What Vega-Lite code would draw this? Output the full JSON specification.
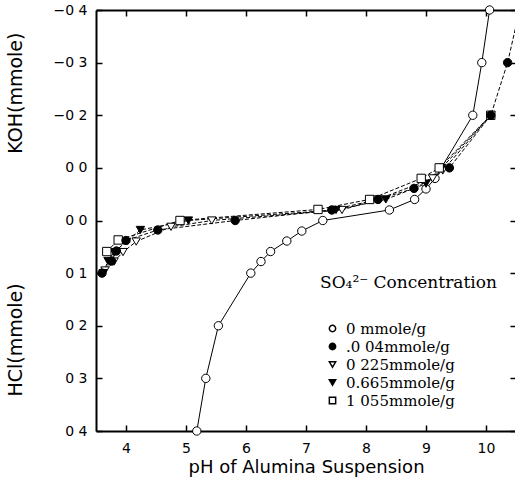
{
  "$schema": "https://vega.github.io/schema/vega-lite/v6.json",
  "width": 420,
  "height": 421,
  "autosize": {"type": "none"},
  "padding": {"left": 96, "top": 10, "right": 0, "bottom": 57},
  "background": "white",
  "config": {
    "view": {"stroke": null},
    "font": "DejaVu Sans"
  },
  "datasets": {
    "main": [
      {"conc": "0 mmole/g", "pH": 5.18, "amount": 0.4},
      {"conc": "0 mmole/g", "pH": 5.33, "amount": 0.3},
      {"conc": "0 mmole/g", "pH": 5.54, "amount": 0.2},
      {"conc": "0 mmole/g", "pH": 6.08, "amount": 0.1},
      {"conc": "0 mmole/g", "pH": 6.25, "amount": 0.078},
      {"conc": "0 mmole/g", "pH": 6.41, "amount": 0.059},
      {"conc": "0 mmole/g", "pH": 6.68, "amount": 0.039},
      {"conc": "0 mmole/g", "pH": 6.93, "amount": 0.02},
      {"conc": "0 mmole/g", "pH": 7.28, "amount": 0.0},
      {"conc": "0 mmole/g", "pH": 8.39, "amount": -0.02},
      {"conc": "0 mmole/g", "pH": 8.81, "amount": -0.04},
      {"conc": "0 mmole/g", "pH": 9.0, "amount": -0.06},
      {"conc": "0 mmole/g", "pH": 9.15, "amount": -0.08},
      {"conc": "0 mmole/g", "pH": 9.78, "amount": -0.2},
      {"conc": "0 mmole/g", "pH": 9.93, "amount": -0.3},
      {"conc": "0 mmole/g", "pH": 10.06, "amount": -0.4},
      {"conc": "0 225mmole/g", "pH": 3.65, "amount": 0.095},
      {"conc": "0 225mmole/g", "pH": 3.8, "amount": 0.078},
      {"conc": "0 225mmole/g", "pH": 3.95, "amount": 0.06},
      {"conc": "0 225mmole/g", "pH": 4.17, "amount": 0.04},
      {"conc": "0 225mmole/g", "pH": 4.75, "amount": 0.012},
      {"conc": "0 225mmole/g", "pH": 5.43, "amount": 0.0},
      {"conc": "0 225mmole/g", "pH": 7.6, "amount": -0.02},
      {"conc": "0 225mmole/g", "pH": 8.19, "amount": -0.04},
      {"conc": "0 225mmole/g", "pH": 9.11, "amount": -0.08},
      {"conc": "0 225mmole/g", "pH": 9.28, "amount": -0.095},
      {"conc": "0 225mmole/g", "pH": 10.08, "amount": -0.2},
      {"conc": "0.665mmole/g", "pH": 3.62, "amount": 0.1},
      {"conc": "0.665mmole/g", "pH": 3.7, "amount": 0.077},
      {"conc": "0.665mmole/g", "pH": 3.8, "amount": 0.06},
      {"conc": "0.665mmole/g", "pH": 4.24, "amount": 0.018},
      {"conc": "0.665mmole/g", "pH": 5.04, "amount": 0.0},
      {"conc": "0.665mmole/g", "pH": 7.5, "amount": -0.02},
      {"conc": "0.665mmole/g", "pH": 8.33, "amount": -0.04},
      {"conc": "0.665mmole/g", "pH": 9.0, "amount": -0.07},
      {"conc": "0.665mmole/g", "pH": 9.26, "amount": -0.1},
      {"conc": "0.665mmole/g", "pH": 10.08, "amount": -0.2},
      {"conc": "1 055mmole/g", "pH": 3.68, "amount": 0.059},
      {"conc": "1 055mmole/g", "pH": 3.87, "amount": 0.037},
      {"conc": "1 055mmole/g", "pH": 4.9, "amount": 0.0},
      {"conc": "1 055mmole/g", "pH": 7.2, "amount": -0.021},
      {"conc": "1 055mmole/g", "pH": 8.06, "amount": -0.04},
      {"conc": "1 055mmole/g", "pH": 8.92, "amount": -0.08},
      {"conc": "1 055mmole/g", "pH": 9.22, "amount": -0.1},
      {"conc": "1 055mmole/g", "pH": 10.08, "amount": -0.2},
      {"conc": ".0 04mmole/g", "pH": 3.6, "amount": 0.1},
      {"conc": ".0 04mmole/g", "pH": 3.76, "amount": 0.077},
      {"conc": ".0 04mmole/g", "pH": 3.84, "amount": 0.058},
      {"conc": ".0 04mmole/g", "pH": 4.0, "amount": 0.038},
      {"conc": ".0 04mmole/g", "pH": 4.53, "amount": 0.018},
      {"conc": ".0 04mmole/g", "pH": 5.82, "amount": 0.0},
      {"conc": ".0 04mmole/g", "pH": 7.43, "amount": -0.02},
      {"conc": ".0 04mmole/g", "pH": 8.2, "amount": -0.04},
      {"conc": ".0 04mmole/g", "pH": 8.8, "amount": -0.061},
      {"conc": ".0 04mmole/g", "pH": 9.39, "amount": -0.1},
      {"conc": ".0 04mmole/g", "pH": 10.08, "amount": -0.2},
      {"conc": ".0 04mmole/g", "pH": 10.36, "amount": -0.3},
      {"conc": ".0 04mmole/g", "pH": 10.56, "amount": -0.4}
    ],
    "titles": [
      {"label": "KOH(mmole)", "tx": 2.17, "ty": -0.242},
      {"label": "HCl(mmole)", "tx": 2.17, "ty": 0.227}
    ]
  },
  "layer": [
    {
      "data": {"name": "main"},
      "transform": [{"filter": "datum.conc == '0 mmole/g'"}],
      "mark": {"type": "line", "stroke": "black", "strokeWidth": 1},
      "encoding": {
        "x": {
          "field": "pH", "type": "quantitative",
          "scale": {"domain": [3.5, 10.5], "nice": false, "zero": false},
          "axis": {
            "orient": "bottom", "values": [4, 5, 6, 7, 8, 9, 10], "format": "d",
            "title": "pH of Alumina Suspension", "grid": false,
            "domainColor": "black", "domainWidth": 2,
            "tickColor": "black", "tickWidth": 1.5, "tickSize": -6,
            "labelPadding": 16, "labelFont": "DejaVu Sans", "labelFontSize": 14, "labelColor": "black",
            "titleFont": "DejaVu Sans", "titleFontSize": 18, "titleFontWeight": "normal",
            "titleColor": "black", "titlePadding": 3
          }
        },
        "y": {
          "field": "amount", "type": "quantitative",
          "scale": {"domain": [-0.4, 0.4], "reverse": true, "nice": false, "zero": false},
          "axis": {
            "orient": "left", "values": [-0.4, -0.3, -0.2, -0.1, 0, 0.1, 0.2, 0.3, 0.4],
            "labelExpr": "(datum.value < -0.05 && datum.value > -0.15) ? '0 0' : replace(format(datum.value, '.1f'), '.', ' ')",
            "title": null, "grid": false,
            "domainColor": "black", "domainWidth": 2,
            "tickColor": "black", "tickWidth": 1.5, "tickSize": -6,
            "labelPadding": 15, "labelFont": "DejaVu Sans", "labelFontSize": 14, "labelColor": "black"
          }
        }
      }
    },
    {
      "data": {"name": "main"},
      "transform": [{"filter": "datum.conc != '0 mmole/g'"}],
      "mark": {"type": "line", "stroke": "black", "strokeWidth": 1, "strokeDash": [4, 2]},
      "encoding": {
        "x": {"field": "pH", "type": "quantitative", "scale": {"domain": [3.5, 10.5], "nice": false, "zero": false}, "axis": null},
        "y": {"field": "amount", "type": "quantitative", "scale": {"domain": [-0.4, 0.4], "reverse": true, "nice": false, "zero": false}, "axis": null},
        "detail": {"field": "conc"}
      }
    },
    {
      "data": {"name": "main"},
      "mark": {"type": "point", "filled": true, "stroke": "black", "strokeWidth": 1, "size": 70, "opacity": 1},
      "encoding": {
        "x": {
          "field": "pH", "type": "quantitative",
          "scale": {"domain": [3.5, 10.5], "nice": false, "zero": false},
          "axis": {
            "orient": "top", "values": [4, 5, 6, 7, 8, 9, 10], "labels": false, "title": null, "grid": false,
            "domainColor": "black", "domainWidth": 2,
            "tickColor": "black", "tickWidth": 1.5, "tickSize": -6
          }
        },
        "y": {
          "field": "amount", "type": "quantitative",
          "scale": {"domain": [-0.4, 0.4], "reverse": true, "nice": false, "zero": false},
          "axis": {
            "orient": "right", "values": [-0.4, -0.3, -0.2, -0.1, 0, 0.1, 0.2, 0.3, 0.4],
            "labels": false, "title": null, "grid": false, "domain": false,
            "tickColor": "black", "tickWidth": 1.5, "tickSize": -6
          }
        },
        "shape": {
          "field": "conc", "type": "nominal", "title": "SO₄²⁻  Concentration",
          "scale": {
            "domain": ["0 mmole/g", ".0 04mmole/g", "0 225mmole/g", "0.665mmole/g", "1 055mmole/g"],
            "range": ["circle", "circle", "triangle-down", "triangle-down", "square"]
          },
          "legend": {
            "orient": "none",
            "legendX": 224,
            "legendY": 265,
            "padding": 0,
            "titleFont": "DejaVu Serif",
            "titleFontSize": 17,
            "titleFontWeight": "normal",
            "titleColor": "black",
            "titlePadding": 29,
            "titleLimit": 400,
            "labelLimit": 300,
            "labelFont": "DejaVu Serif",
            "labelFontSize": 15,
            "labelColor": "black",
            "symbolSize": 40,
            "symbolOffset": 5,
            "labelOffset": 6,
            "rowPadding": 2,
            "encode": {
              "symbols": {
                "update": {
                  "stroke": {"value": "black"},
                  "strokeWidth": {"value": 1},
                  "opacity": {"value": 1}
                }
              }
            }
          }
        },
        "fill": {
          "field": "conc", "type": "nominal", "title": "SO₄²⁻  Concentration",
          "scale": {
            "domain": ["0 mmole/g", ".0 04mmole/g", "0 225mmole/g", "0.665mmole/g", "1 055mmole/g"],
            "range": ["white", "black", "white", "black", "white"]
          }
        }
      }
    },
    {
      "data": {"name": "titles"},
      "mark": {"type": "text", "angle": 270, "align": "center", "baseline": "middle", "font": "DejaVu Sans", "fontSize": 19, "color": "black"},
      "encoding": {
        "x": {"field": "tx", "type": "quantitative", "scale": {"domain": [3.5, 10.5], "nice": false, "zero": false}, "axis": null},
        "y": {"field": "ty", "type": "quantitative", "scale": {"domain": [-0.4, 0.4], "reverse": true, "nice": false, "zero": false}, "axis": null},
        "text": {"field": "label"}
      }
    }
  ],
  "resolve": {"axis": {"x": "independent", "y": "independent"}}
}
